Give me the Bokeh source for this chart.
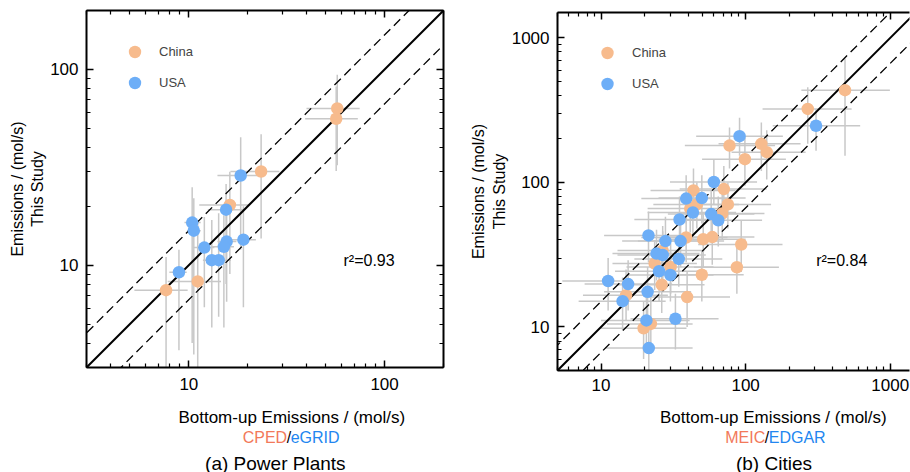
import math
from bokeh.plotting import figure
from bokeh.models import (LogAxis, FixedTicker, PrintfTickFormatter, CustomJSTickFormatter,
                          Label, Legend, LegendItem, Range1d)
from bokeh.layouts import row, column
from bokeh.core.properties import value
from bokeh.embed import file_html
from bokeh.resources import INLINE

# ---------------- (a) Power plants ----------------
pp_cn_x = [57.3, 56.6, 23.4, 16.2, 11.1, 7.65]
pp_cn_y = [63.2, 56.0, 30.1, 20.3, 8.26, 7.45]
pp_cn_xlo = [39.9, 39.3, 16.3, 11.3, 7.8, 5.27]
pp_cn_xhi = [74.6, 73.0, 29.0, 20.3, 14.6, 9.86]
pp_cn_ylo = [32.4, 30.3, 13.7, 9.0, 2.5, 2.5]
pp_cn_yhi = [94.0, 81.8, 46.6, 30.0, 17.0, 11.0]

pp_us_x = [18.4, 15.5, 10.4, 10.6, 12.0, 15.6, 15.1, 19.0, 13.1, 14.2, 8.9]
pp_us_y = [28.7, 19.2, 16.5, 15.0, 12.3, 13.2, 12.4, 13.5, 10.6, 10.6, 9.2]
pp_us_xlo = [14.0, 12.5, 9.5, 9.8, 10.5, 14.0, 13.0, 16.5, 11.8, 12.5, 7.95]
pp_us_xhi = [23.0, 19.0, 11.5, 11.5, 13.5, 17.5, 17.0, 22.0, 14.5, 16.4, 9.75]
pp_us_ylo = [12.0, 8.0, 4.0, 3.5, 6.1, 6.5, 4.8, 6.1, 4.8, 5.45, 3.68]
pp_us_yhi = [45.0, 26.0, 25.0, 22.0, 17.6, 20.6, 18.0, 20.0, 17.0, 18.4, 12.0]

# ---------------- (b) Cities ----------------
ct_cn_x = [487, 269, 77.4, 128.5, 140, 98.9, 70.7, 43.6, 75.4, 46, 41.4, 68.9, 38.8,
           50.9, 58.8, 93.3, 26.7, 23.5, 30.3, 87, 49.8, 26.3, 14.9, 39.4, 22.1, 19.7]
ct_cn_y = [435, 323, 180, 185, 162, 145, 90, 88, 70.5, 70.5, 66, 61, 41.6,
           40.5, 41.9, 37.2, 33.8, 27.5, 26, 25.9, 23, 19.6, 16.6, 16.1, 10.5, 9.8]
ct_cn_xlo = [243, 131, 38, 65, 80, 50, 35, 22, 38, 23, 21, 35, 19,
             25, 30, 47, 13, 12, 15, 44, 25, 13, 7.5, 20, 11, 10]
ct_cn_xhi = [995, 541, 160, 240, 260, 190, 140, 85, 150, 90, 80, 135, 75,
             100, 115, 180, 52, 46, 60, 170, 97, 52, 29, 78, 43, 39]
ct_cn_ylo = [153, 185, 125, 120, 105, 95, 60, 60, 48, 48, 45, 40, 28,
             26, 27, 24, 22, 18, 17, 17, 15, 12.5, 11, 10, 6.5, 6]
ct_cn_yhi = [720, 455, 240, 260, 230, 210, 130, 125, 100, 100, 95, 88, 60,
             60, 62, 55, 50, 40, 38, 38, 34, 29, 25, 24, 16, 15]

ct_us_x = [307, 90.8, 60.3, 38.8, 49.8, 43.2, 57.8, 64.7, 34.9, 21.3, 27.9, 35.5,
           24.2, 26.7, 34.5, 25.2, 30.2, 11.2, 15.4, 21.0, 14.1, 20.6, 32.7, 21.4]
ct_us_y = [247, 209, 100.7, 77.4, 78, 62, 60.4, 54.8, 55.4, 43, 39.3, 39.3,
           32.2, 31.5, 29.6, 24.3, 22.9, 20.8, 19.8, 17.5, 15.1, 11.1, 11.4, 7.15]
ct_us_xlo = [154, 45.5, 30, 19, 25, 21, 29, 32, 17, 10.5, 14, 18,
             12, 13, 17, 12.5, 15, 5.4, 7.7, 10.5, 7, 10, 16, 10.7]
ct_us_xhi = [620, 181, 120, 78, 100, 86, 115, 130, 70, 43, 56, 71,
             48, 53, 69, 50, 60, 14.9, 31, 42, 28, 41, 65, 43]
ct_us_ylo = [166, 153, 70, 52, 52, 40, 40, 36, 36, 28, 26, 26,
             21, 20, 19, 15, 15, 13, 13, 11, 9.5, 7, 7, 4.5]
ct_us_yhi = [323, 280, 145, 112, 112, 90, 88, 80, 80, 63, 58, 58,
             47, 46, 43, 35, 34, 30, 29, 26, 22, 17, 17, 11]

pp_ticks = [10, 100]
pp_minor = [3, 4, 5, 6, 7, 8, 9, 20, 30, 40, 50, 60, 70, 80, 90, 200]
ct_ticks = [10, 100, 1000]
ct_minor = [5, 6, 7, 8, 9, 20, 30, 40, 50, 60, 70, 80, 90,
            200, 300, 400, 500, 600, 700, 800, 900, 2000]

y_title = "Emissions / (mol/s)\nThis Study"
x_title = "Bottom-up Emissions / (mol/s)"
r2_pp = "r\u00b2=0.93"
r2_ct = "r\u00b2=0.84"
src_pp = ["CPED", "/", "eGRID"]
src_ct = ["MEIC", "/", "EDGAR"]
cap_pp = "(a) Power Plants"
cap_ct = "(b) Cities"

FONT = "Liberation Sans"
ORANGE = "#F7BB8D"
BLUE = "#6DAEF7"
TXT_OR = "#F2795A"
TXT_BL = "#2286F0"
ERR = "#C8C8C8"

MAIN_H = 400
CAP_H = 72


def style_axis(ax, ticker, labels, standoff):
    ax.ticker = ticker
    ax.axis_line_width = 2
    ax.axis_line_color = "black"
    ax.major_tick_in = 7
    ax.major_tick_out = 0
    ax.minor_tick_in = 4
    ax.minor_tick_out = 0
    ax.major_tick_line_width = 1.5
    ax.minor_tick_line_width = 1.2
    ax.major_tick_line_color = "black"
    ax.minor_tick_line_color = "black"
    ax.major_label_text_font = FONT
    ax.major_label_text_color = "black"
    ax.major_label_text_font_size = "17px"
    if labels:
        ax.formatter = PrintfTickFormatter(format="%d")
        ax.major_label_standoff = standoff
    else:
        ax.formatter = CustomJSTickFormatter(code="return ''")
        ax.major_label_standoff = 0


def make_panel(g, ticks, minor, mirror_right, xstand, ystand):
    fh = g["fh"]
    p = figure(width=g["w"], height=MAIN_H, x_axis_type="log", y_axis_type="log",
               x_range=Range1d(g["x0"], g["x1"]), y_range=Range1d(g["y0"], g["y1"]),
               output_backend="svg", toolbar_location=None,
               min_border_left=g["bl"], min_border_right=g["br"],
               min_border_top=g["bt"], min_border_bottom=MAIN_H - g["bt"] - fh,
               outline_line_color=None)
    p.grid.visible = False
    ticker = FixedTicker(ticks=ticks, minor_ticks=minor)
    style_axis(p.xaxis[0], ticker, True, xstand)
    style_axis(p.yaxis[0], ticker, True, ystand)
    yax = p.yaxis[0]
    yax.axis_label = y_title
    yax.axis_label_text_font = FONT
    yax.axis_label_text_font_size = "16px"
    yax.axis_label_text_font_style = "normal"
    yax.axis_label_text_color = "black"
    yax.axis_label_standoff = 1
    top = LogAxis()
    style_axis(top, ticker, False, 0)
    p.add_layout(top, "above")
    if mirror_right:
        right = LogAxis()
        style_axis(right, ticker, False, 0)
        p.add_layout(right, "right")
    return p


def draw_data(p, g, cn, us):
    for (x, y, xlo, xhi, ylo, yhi) in (cn, us):
        p.segment(x0=xlo, y0=y, x1=xhi, y1=y, line_color=ERR, line_width=1.5)
        p.segment(x0=x, y0=ylo, x1=x, y1=yhi, line_color=ERR, line_width=1.5)
    xs = [g["x0"] / 2, g["x1"] * 2]
    p.line(xs, xs, line_color="black", line_width=2)
    p.line(xs, [v * 1.5 for v in xs], line_color="black", line_width=1.3, line_dash="9 5")
    p.line(xs, [v / 1.5 for v in xs], line_color="black", line_width=1.3, line_dash="9 5")
    r_cn = p.scatter(cn[0], cn[1], size=12.5, fill_color=ORANGE, line_color=None)
    r_us = p.scatter(us[0], us[1], size=12.5, fill_color=BLUE, line_color=None)
    return r_cn, r_us


def add_legend(p, r_cn, r_us, margin, gw, standoff, spacing):
    leg = Legend(items=[LegendItem(label="China", renderers=[r_cn]),
                        LegendItem(label="USA", renderers=[r_us])],
                 location="top_left", margin=margin, padding=0, spacing=spacing,
                 glyph_width=gw, glyph_height=31, label_height=20,
                 label_standoff=standoff, label_text_font=FONT,
                 label_text_font_size="13px", border_line_color=None,
                 background_fill_alpha=0)
    p.add_layout(leg)


def r2_label(p, g, px, py, text):
    lx0, lx1 = math.log10(g["x0"]), math.log10(g["x1"])
    ly0, ly1 = math.log10(g["y0"]), math.log10(g["y1"])
    fw = g["w"] - g["bl"] - g["br"]
    fb = g["bt"] + g["fh"]
    x = 10 ** (lx0 + (px - g["ox"] - g["bl"]) / fw * (lx1 - lx0))
    y = 10 ** (ly0 + (fb - py) / g["fh"] * (ly1 - ly0))
    p.add_layout(Label(x=x, y=y, text=text, text_align="left", text_baseline="middle",
                       text_font=FONT, text_font_size="16px", text_color="black"))


def caption_fig(g, xt, src, sx, cap, capx):
    c = figure(width=g["w"], height=CAP_H, x_range=Range1d(g["ox"], g["ox"] + g["w"]),
               y_range=Range1d(MAIN_H + CAP_H, MAIN_H), output_backend="svg",
               toolbar_location=None, x_axis_location=None, y_axis_location=None,
               min_border=0, outline_line_color=None)
    c.grid.visible = False
    c.text(x=[xt], y=[416.5], text=[x_title], text_font=value(FONT),
           text_font_size=value("17px"), text_align="center", text_baseline="middle",
           text_color="black")
    c.text(x=[sx - 2.3], y=[436.5], text=[src[0]], text_font=value(FONT),
           text_font_size=value("16px"), text_align="right", text_baseline="middle",
           text_color=TXT_OR)
    c.text(x=[sx], y=[436.5], text=[src[1]], text_font=value(FONT),
           text_font_size=value("16px"), text_align="center", text_baseline="middle",
           text_color="black")
    c.text(x=[sx + 2.3], y=[436.5], text=[src[2]], text_font=value(FONT),
           text_font_size=value("16px"), text_align="left", text_baseline="middle",
           text_color=TXT_BL)
    c.text(x=[capx], y=[462.5], text=[cap], text_font=value(FONT),
           text_font_size=value("19px"), text_align="center", text_baseline="middle",
           text_color="black")
    return c


# ---------- panel (a) ----------
ga = dict(ox=0, w=460, bl=86, br=17, bt=10, fh=357, x0=3, x1=200, y0=3, y1=200)
pa = make_panel(ga, pp_ticks, pp_minor, True, 10, 8)
rc, ru = draw_data(pa, ga,
                   (pp_cn_x, pp_cn_y, pp_cn_xlo, pp_cn_xhi, pp_cn_ylo, pp_cn_yhi),
                   (pp_us_x, pp_us_y, pp_us_xlo, pp_us_xhi, pp_us_ylo, pp_us_yhi))
add_legend(pa, rc, ru, 26, 45, 2, -11)
r2_label(pa, ga, 343, 260, r2_pp)
ca = caption_fig(ga, 264.5, src_pp, 260.8, cap_pp, 243.3)

# ---------- panel (b) ----------
gb = dict(ox=460, w=450, bl=97, br=1, bt=12, fh=358, x0=5, x1=1360, y0=5, y1=1500)
pb = make_panel(gb, ct_ticks, ct_minor, False, 8, 8)
rc2, ru2 = draw_data(pb, gb,
                     (ct_cn_x, ct_cn_y, ct_cn_xlo, ct_cn_xhi, ct_cn_ylo, ct_cn_yhi),
                     (ct_us_x, ct_us_y, ct_us_xlo, ct_us_xhi, ct_us_ylo, ct_us_yhi))
add_legend(pb, rc2, ru2, 25, 50, 0, -10)
r2_label(pb, gb, 815.7, 260, r2_ct)
cb = caption_fig(gb, 736, src_ct, 727.8, cap_ct, 736.7)

layout = row(column(pa, ca), column(pb, cb))
open("out.html", "w").write(file_html(layout, INLINE))
